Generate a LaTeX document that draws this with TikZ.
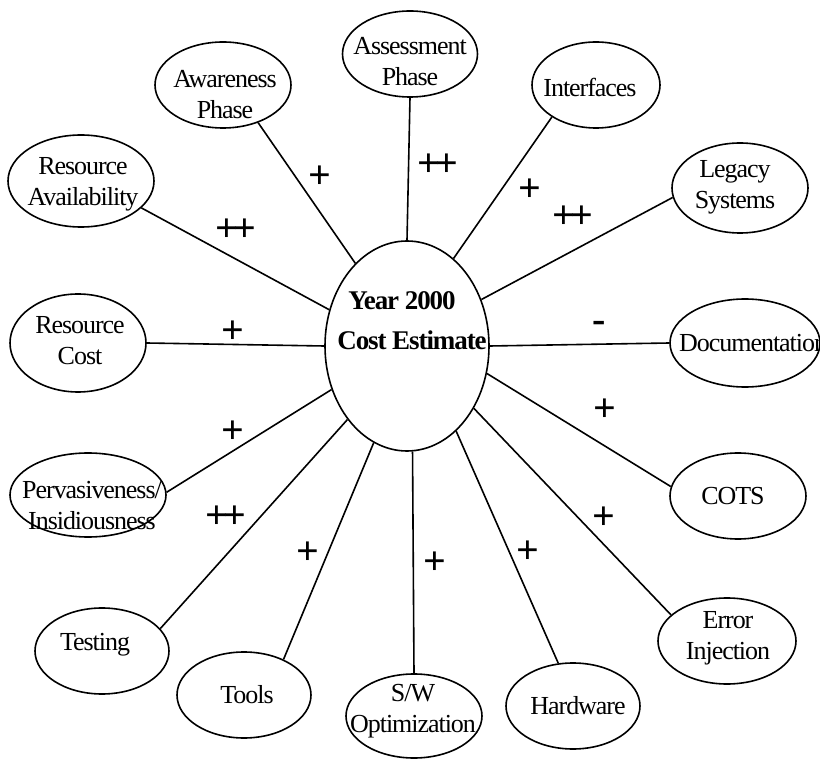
\documentclass[tikz,border=0pt]{standalone}
\usepackage{fontspec}
\setmainfont{Liberation Serif}
\newfontfamily\labfont{Liberation Serif}[LetterSpace=-4]
\usetikzlibrary{shapes.geometric}
\begin{document}
\begin{tikzpicture}[x=1pt,y=-1pt,
  oval/.style={ellipse, draw, line width=1.6pt, inner sep=0pt},
  lab/.style={font=\labfont\fontsize{26}{31}\selectfont, align=center, inner sep=0pt},
  ctr/.style={font=\labfont\bfseries\fontsize{27}{40}\selectfont, inner sep=0pt, anchor=base},
  sign/.style={font=\bfseries\fontsize{40}{40}\selectfont, inner sep=0pt},
  link/.style={line width=1.6pt}]
\useasboundingbox (0,0) rectangle (820,759);
\fill[white] (0,0) rectangle (820,759);
% central ellipse
\node[oval, minimum width=164pt, minimum height=210pt] (c) at (407,346) {};
\node[ctr] (ct1) at (402,310) {Year 2000};
\node[ctr] (ct2) at (412,350) {Cost Estimate};
% outer ellipses
\node[oval, minimum width=136pt, minimum height=86pt] (aw) at (223,85) {};
\node[oval, minimum width=135pt, minimum height=86pt] (as) at (410,54) {};
\node[oval, minimum width=128pt, minimum height=86pt] (inf) at (596,85) {};
\node[oval, minimum width=136pt, minimum height=90pt] (leg) at (740,188) {};
\node[oval, minimum width=146pt, minimum height=92pt] (ra) at (81,181) {};
\node[oval, minimum width=136pt, minimum height=98pt] (rc) at (78,343) {};
\node[oval, minimum width=150pt, minimum height=88pt] (doc) at (745,343) {};
\node[oval, minimum width=156pt, minimum height=84pt] (pv) at (88,495) {};
\node[oval, minimum width=136pt, minimum height=86pt] (cots) at (738,496) {};
\node[oval, minimum width=134pt, minimum height=86pt] (tst) at (102,651) {};
\node[oval, minimum width=138pt, minimum height=86pt] (err) at (727,641) {};
\node[oval, minimum width=134pt, minimum height=86pt] (tool) at (244,695) {};
\node[oval, minimum width=136pt, minimum height=84pt] (sw) at (414,716) {};
\node[oval, minimum width=134pt, minimum height=86pt] (hw) at (573,706) {};
% texts
\node[lab] (awt) at (225,95) {Awareness\\Phase};
\node[lab] (ast) at (410,62) {Assessment\\Phase};
\node[lab] (inft) at (590,87) {Interfaces};
\node[lab] (legt) at (735,187) {Legacy\\Systems};
\node[lab] (rat) at (83,184) {Resource\\Availability};
\node[lab] (rct) at (80,341) {Resource\\Cost};
\node[lab, anchor=west] (doct) at (679,343) {Documentation};
\node[lab] (pvt) at (92,506) {Pervasiveness/\\Insidiousness};
\node[lab] (cotst) at (733,496) {COTS};
\node[lab] (tstt) at (95,645) {Testing};
\node[lab] (errt) at (728,638) {Error\\Injection};
\node[lab] (toolt) at (247,695) {Tools};
\node[lab] (swt) at (413,711) {S/W\\Optimization};
\node[lab] (hwt) at (578,706) {Hardware};
% connectors
\draw[link] (c.122) -- (aw.313);
\draw[link] (c.90) -- (as.270);
\draw[link] (c.62) -- (inf.216);
\draw[link] (c.32) -- (leg.188);
\draw[link] (c.155) -- (ra.336);
\draw[link] (c.west) -- (rc.east);
\draw[link] (c.east) -- (doc.west);
\draw[link] (c.210) -- (pv.2);
\draw[link] (c.341) -- (cots.172);
\draw[link] (c.231) -- (tst.21);
\draw[link] (c.317) -- (err.155);
\draw[link] (c.251) -- (tool.42);
\draw[link] (c.273) -- (sw.90);
\draw[link] (c.300) -- (hw.109);
% signs
\node[sign] (s1) at (320,177) {+};
\node[sign] (s2) at (236,230) {+\kern-5pt+};
\node[sign] (s3) at (438,165) {+\kern-5pt+};
\node[sign] (s4) at (530,190) {+};
\node[sign] (s5) at (573,217) {+\kern-5pt+};
\node[sign] (s6) at (233,332) {+};
\node[sign] (s7) at (599,327) {-};
\node[sign] (s8) at (605,410) {+};
\node[sign] (s9) at (233,432) {+};
\node[sign] (s10) at (226,517) {+\kern-5pt+};
\node[sign] (s11) at (604,518) {+};
\node[sign] (s12) at (308,553) {+};
\node[sign] (s13) at (435,563) {+};
\node[sign] (s14) at (528,552) {+};
\end{tikzpicture}
\end{document}
